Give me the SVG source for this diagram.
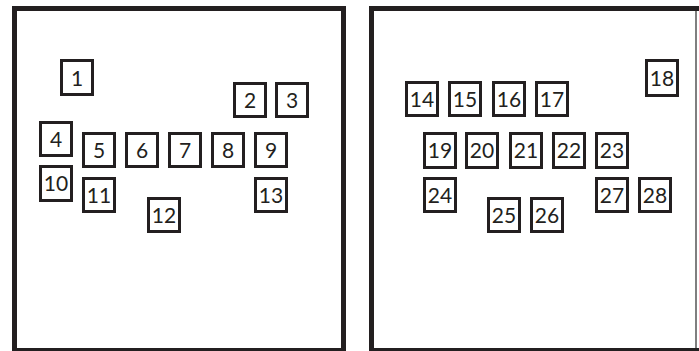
<svg xmlns="http://www.w3.org/2000/svg" width="699" height="351" viewBox="0 0 699 351">
<style>
.panel{fill:#fff;stroke:#231f20;stroke-width:5}
.box{fill:#fff;stroke:#231f20;stroke-width:3}
.lbl{font-family:Lato,"Noto Sans","Liberation Sans",sans-serif;font-size:21px;fill:#231f20;text-anchor:middle}
</style>
<rect width="699" height="351" fill="#fff"/>
<g id="panel-left"><rect class="panel" x="14.5" y="8.5" width="329" height="342"/></g>
<g id="panel-right">
<path d="M371.5 351 V8.5 H699" fill="none" stroke="#231f20" stroke-width="5"/>
<path d="M371.5 350.5 H699" fill="none" stroke="#231f20" stroke-width="5"/>
<line x1="696" y1="11" x2="696" y2="348" stroke="#555" stroke-width="1.5"/>
</g>
<g id="n1"><rect class="box" x="61.5" y="60.5" width="31" height="34"/><text class="lbl" x="77" y="85.5">1</text></g>
<g id="n2"><rect class="box" x="234.5" y="83.5" width="31" height="33"/><text class="lbl" x="250" y="108">2</text></g>
<g id="n3"><rect class="box" x="276.5" y="83.5" width="31" height="33"/><text class="lbl" x="292" y="108">3</text></g>
<g id="n4"><rect class="box" x="40.5" y="122.5" width="31" height="33"/><text class="lbl" x="56" y="147">4</text></g>
<g id="n5"><rect class="box" x="83.5" y="133.5" width="31" height="33"/><text class="lbl" x="99" y="158">5</text></g>
<g id="n6"><rect class="box" x="126.5" y="133.5" width="31" height="33"/><text class="lbl" x="142" y="158">6</text></g>
<g id="n7"><rect class="box" x="169.5" y="133.5" width="31" height="33"/><text class="lbl" x="185" y="158">7</text></g>
<g id="n8"><rect class="box" x="212.5" y="133.5" width="31" height="33"/><text class="lbl" x="228" y="158">8</text></g>
<g id="n9"><rect class="box" x="255.5" y="133.5" width="31" height="33"/><text class="lbl" x="271" y="158">9</text></g>
<g id="n10"><rect class="box" x="40.5" y="166.5" width="31" height="34"/><text class="lbl" x="56" y="191">10</text></g>
<g id="n11"><rect class="box" x="83.5" y="178.5" width="31" height="33"/><text class="lbl" x="99" y="203">11</text></g>
<g id="n12"><rect class="box" x="148.5" y="198.5" width="31" height="33"/><text class="lbl" x="164" y="223">12</text></g>
<g id="n13"><rect class="box" x="255.5" y="178.5" width="31" height="33"/><text class="lbl" x="271" y="203">13</text></g>
<g id="n14"><rect class="box" x="406.5" y="82.5" width="31" height="33"/><text class="lbl" x="422" y="107">14</text></g>
<g id="n15"><rect class="box" x="449.5" y="82.5" width="31" height="33"/><text class="lbl" x="465" y="107">15</text></g>
<g id="n16"><rect class="box" x="493.5" y="82.5" width="31" height="33"/><text class="lbl" x="509" y="107">16</text></g>
<g id="n17"><rect class="box" x="536.5" y="82.5" width="31" height="33"/><text class="lbl" x="552" y="107">17</text></g>
<g id="n18"><rect class="box" x="646.5" y="60.5" width="31" height="35"/><text class="lbl" x="662" y="86">18</text></g>
<g id="n19"><rect class="box" x="424.5" y="133.5" width="31" height="34"/><text class="lbl" x="440" y="158">19</text></g>
<g id="n20"><rect class="box" x="466.5" y="133.5" width="31" height="34"/><text class="lbl" x="482" y="158">20</text></g>
<g id="n21"><rect class="box" x="510.5" y="133.5" width="31" height="34"/><text class="lbl" x="526" y="158">21</text></g>
<g id="n22"><rect class="box" x="553.5" y="133.5" width="31" height="34"/><text class="lbl" x="569" y="158">22</text></g>
<g id="n23"><rect class="box" x="596.5" y="133.5" width="31" height="34"/><text class="lbl" x="612" y="158">23</text></g>
<g id="n24"><rect class="box" x="424.5" y="178.5" width="31" height="33"/><text class="lbl" x="440" y="203">24</text></g>
<g id="n25"><rect class="box" x="488.5" y="198.5" width="31" height="33"/><text class="lbl" x="504" y="223">25</text></g>
<g id="n26"><rect class="box" x="531.5" y="198.5" width="31" height="33"/><text class="lbl" x="547" y="223">26</text></g>
<g id="n27"><rect class="box" x="596.5" y="178.5" width="31" height="33"/><text class="lbl" x="612" y="203">27</text></g>
<g id="n28"><rect class="box" x="639.5" y="178.5" width="31" height="33"/><text class="lbl" x="655" y="203">28</text></g>
<g id="connectors"></g>
</svg>
